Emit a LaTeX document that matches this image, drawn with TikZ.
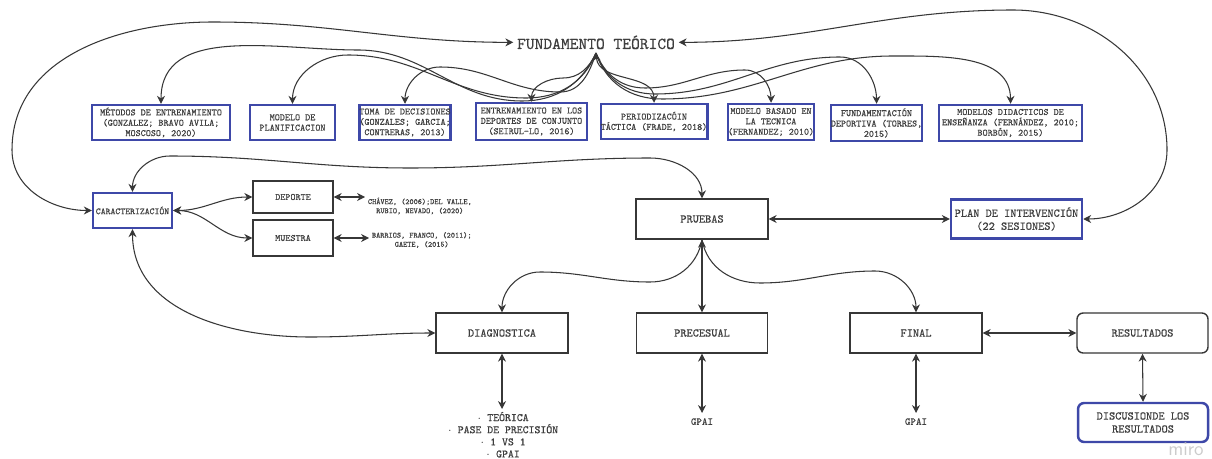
\documentclass[tikz,border=0pt]{standalone}
\usepackage{fontspec}
\usetikzlibrary{arrows.meta}
\definecolor{bl}{RGB}{62,72,168}
\definecolor{ln}{RGB}{55,55,55}
\definecolor{tx}{RGB}{62,62,62}
\newfontfamily\mono{lmmono10-regular.otf}[FakeBold=0.5]
\newcommand\fA{\mono\fontsize{5.5}{5.9}\selectfont}
\newcommand\fB{\mono\fontsize{6.7}{7.4}\selectfont}
\newcommand\fC{\mono\fontsize{4.5}{5.2}\selectfont}
\newcommand\fD{\mono\fontsize{6.4}{6.9}\selectfont}
\newcommand\fE{\mono\fontsize{9.5}{10}\selectfont}
\begin{document}
\begin{tikzpicture}[x=0.02cm,y=-0.02cm,
  >={Stealth[length=4.5pt,width=4.5pt]},
  conn/.style={draw=ln,line width=0.6pt},
  bx/.style 2 args={minimum width=#1*0.02cm,minimum height=#2*0.02cm},
  bluebox/.style={draw=bl,line width=1.4pt,inner sep=0pt,align=center,text=tx},
  greybox/.style={draw=ln,line width=0.8pt,inner sep=0pt,align=center,text=tx},
  rbox/.style={greybox,rounded corners=3.5pt},
  rbluebox/.style={bluebox,rounded corners=3.5pt},
  lbl/.style={inner sep=1.5pt,align=center,text=tx}]
\fill[white] (0,0) rectangle (1212,459);
\useasboundingbox (0,0) rectangle (1212,459);

% title
\node[lbl,inner sep=2pt,anchor=base,font=\fE] (ft) at (596,49) {FUNDAMENTO TEÓRICO};

% top boxes
\node[bluebox,bx={138}{35},font=\fA] (m1) at (161,122.5) {MÉTODOS DE ENTRENAMIENTO\\(GONZALEZ; BRAVO AVILA;\\MOSCOSO, 2020)};
\node[bluebox,bx={85}{35},font=\fA] (m2) at (292.5,122.5) {MODELO DE\\PLANIFICACION};
\node[bluebox,bx={90}{35},font=\fA] (m3) at (405,122.5) {TOMA DE DECISIONES\\(GONZALES; GARCIA;\\CONTRERAS, 2013)};
\node[bluebox,bx={111}{37},font=\fA] (m4) at (531.5,121.5) {ENTRENAMIENTO EN LOS\\DEPORTES DE CONJUNTO\\(SEIRUL-LO, 2016)};
\node[bluebox,bx={96}{35},font=\fA] (m5) at (654,121.5) {PERIODIZACÓIN\\TÁCTICA (FRADE, 2018)};
\node[bluebox,bx={82}{36},font=\fA] (m6) at (771,122) {MODELO BASADO EN\\LA TECNICA\\(FERNANDEZ; 2010)};
\node[bluebox,bx={85}{36},font=\fA] (m7) at (876.5,123) {FUNDAMENTACIÓN\\DEPORTIVA (TORRES,\\2015)};
\node[bluebox,bx={143}{36},font=\fA] (m8) at (1010.5,123) {MODELOS DIDACTICOS DE\\ENSEÑANZA (FERNÁNDEZ, 2010;\\BORBÓN, 2015)};

% middle row
\node[bluebox,bx={79}{35},font=\mono\fontsize{5.3}{5.8}\selectfont] (car) at (132.5,210.5) {CARACTERIZACIÓN};
\node[greybox,bx={80}{32},font=\fA] (dep) at (293,197) {DEPORTE};
\node[greybox,bx={80}{36},font=\fA] (mue) at (293,238) {MUESTRA};
\node[lbl,anchor=west,font=\fC] (c1) at (365,206) {CHÁVEZ, (2006);DEL VALLE,\\RUBIO, NEVADO, (2020)};
\node[lbl,anchor=west,font=\fC] (c2) at (369,240) {BARRIOS, FRANCO, (2011);\\GAETE, (2015)};
\node[greybox,bx={132}{40},font=\fB] (pru) at (702,219) {PRUEBAS};
\node[bluebox,bx={131}{39},font=\fB] (plan) at (1016.5,219) {PLAN DE INTERVENCIÓN\\(22 SESIONES)};

% bottom row
\node[greybox,bx={132}{40},font=\fB] (diag) at (502,333) {DIAGNOSTICA};
\node[greybox,bx={131}{40},font=\fB] (prec) at (702,333) {PRECESUAL};
\node[greybox,bx={132}{40},font=\fB] (fin) at (916,333) {FINAL};
\node[rbox,bx={131}{40},font=\fB] (res) at (1142.5,333) {RESULTADOS};
\node[rbluebox,bx={130}{39},font=\fB] (disc) at (1143,422.5) {DISCUSIONDE LOS\\RESULTADOS};
\node[lbl,anchor=north,font=\fD] (dl) at (503,409) {$\cdot$ TEÓRICA\\$\cdot$ PASE DE PRECISIÓN\\$\cdot$ 1 VS 1\\$\cdot$ GPAI};
\node[lbl,inner sep=2.8pt,anchor=north,font=\mono\fontsize{6}{6.5}\selectfont] (g1) at (702,413) {GPAI};
\node[lbl,inner sep=2.8pt,anchor=north,font=\mono\fontsize{6}{6.5}\selectfont] (g2) at (916,413) {GPAI};
\node[text=black!20,inner sep=0pt,anchor=base,font=\sffamily\fontsize{11}{11}\selectfont] (wm) at (1186,455) {miro};

% fan from title to top boxes
\draw[conn,->] (ft.south) to[out=245,in=0] (522,101) to[out=180,in=0] (358,50) to[out=180,in=90] (m1.north);
\draw[conn,->] (ft.south) to[out=248,in=0] (526,98) to[out=180,in=0] (348,55) to[out=180,in=90] (m2.north);
\draw[conn,->] (ft.south) to[out=252,in=0] (560,92) to[out=180,in=0] (440,67) to[out=180,in=90] (m3.north);
\draw[conn,->] (ft.south) to[out=245,in=0] (563,78) to[out=180,in=90] (m4.north);
\draw[conn,<->] (ft.south) to[out=275,in=90] (m5.north);
\draw[conn,->] (ft.south) to[out=292,in=180] (645,88) to[out=0,in=180] (745,70) to[out=0,in=90] (m6.north);
\draw[conn,->] (ft.south) to[out=290,in=180] (655,94) to[out=0,in=180] (840,57) to[out=0,in=90] (m7.north);
\draw[conn,->] (ft.south) to[out=288,in=180] (662,99) to[out=0,in=180] (893,56) to[out=0,in=90] (m8.north);

% big loops to title
\draw[conn,<->] (car.west) to[out=180,in=270] (12,150) to[out=90,in=180] (213,22) to[out=0,in=180] (ft.west);
\draw[conn,<->] (plan.east) to[out=0,in=270] (1167,150) to[out=90,in=0] (1013,10) to[out=180,in=0] (ft.east);

% caracterizacion links
\draw[conn,<->] (car.east) to[out=0,in=180] (dep.west);
\draw[conn,<->] (car.east) to[out=0,in=180] (mue.west);
\draw[conn,<->] (dep.east) -- (dep.east -| c1.west);
\draw[conn,<->] (mue.east) -- (mue.east -| c2.west);
\draw[conn,<->] (car.north) to[out=90,in=180] (170,156) to[out=0,in=180] (410,168) to[out=0,in=180] (650,158) to[out=0,in=90] (pru.north);
\draw[conn,<->] (car.south) to[out=270,in=180] (310,337) to[out=0,in=180] (diag.west);

% pruebas links
\draw[conn,<->] (pru.east) -- (plan.west);
\draw[conn,<->] (pru.south) -- (prec.north);
\draw[conn,->] (pru.south) to[out=260,in=0] (650,282) to[out=180,in=0] (540,272) to[out=180,in=90] (diag.north);
\draw[conn,->] (pru.south) to[out=280,in=180] (760,283) to[out=0,in=180] (875,271) to[out=0,in=90] (fin.north);

% bottom links
\draw[conn,<->] (diag.south) -- (diag.south |- dl.north);
\draw[conn,<->] (prec.south) -- (g1.north);
\draw[conn,<->] (fin.south) -- (g2.north);
\draw[conn,<->] (fin.east) -- (res.west);
\draw[conn,<->] (res.south) -- (disc.north);
\end{tikzpicture}
\end{document}
